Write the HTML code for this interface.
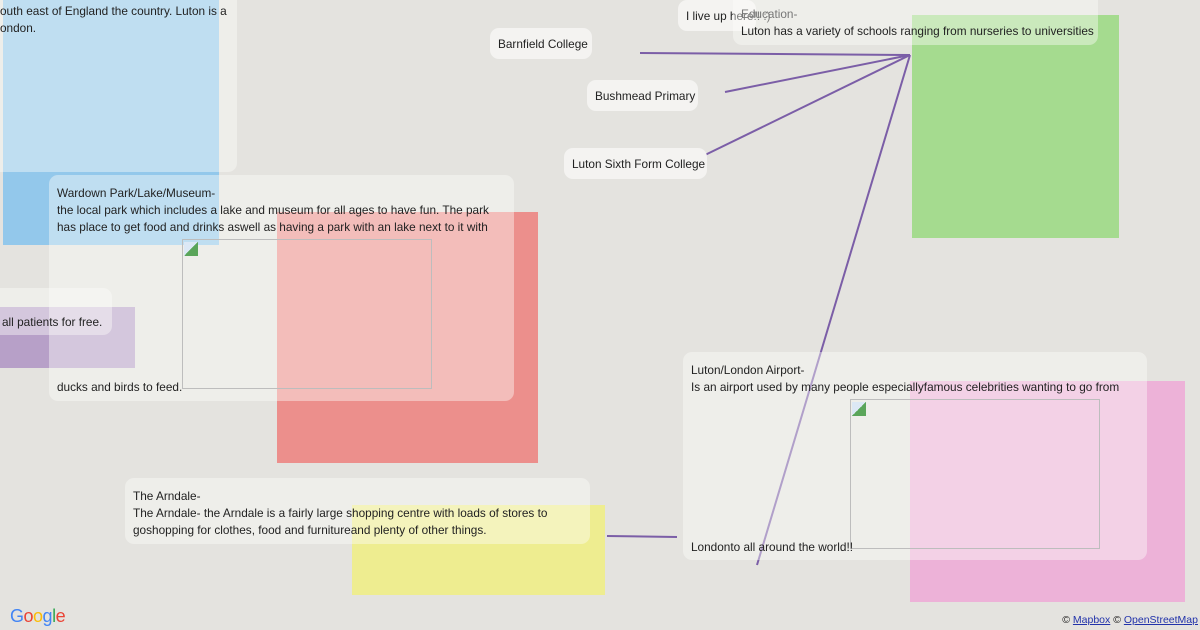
<!DOCTYPE html>
<html><head><meta charset="utf-8"><style>
body{margin:0;width:1200px;height:630px;overflow:hidden;background:#e4e3df;position:relative;font-family:"Liberation Sans",sans-serif;font-size:11.8px;color:#222}
.r{position:absolute}
.c{position:absolute;background:rgba(252,252,250,0.42);border-radius:9px;box-sizing:border-box}
.p{position:absolute;background:#f4f3f1;border-radius:9px;box-sizing:border-box;padding:1px 8px 0;line-height:30px;white-space:nowrap}
.t{position:absolute;white-space:nowrap;line-height:17px}
.img{position:absolute;border:1px solid #bdbdbd;box-sizing:border-box}
.img::before{content:"";position:absolute;left:1px;top:2px;width:14px;height:14px;background:linear-gradient(135deg,#dce8f5 50%,#5aa55a 50%)}
</style></head><body>
<div class="r" style="left:3px;top:-5px;width:216px;height:250px;background:#93c8eb"></div>
<div class="r" style="left:912px;top:15px;width:207px;height:223px;background:#a5db8f"></div>
<div class="r" style="left:277px;top:212px;width:261px;height:251px;background:#ec8f8c"></div>
<div class="r" style="left:-5px;top:307px;width:140px;height:61px;background:#b7a0c8"></div>
<div class="r" style="left:910px;top:381px;width:275px;height:221px;background:#edb2d8"></div>
<div class="r" style="left:352px;top:505px;width:253px;height:90px;background:#eeed90"></div>

<svg class="r" style="left:0;top:0" width="1200" height="630">
<g stroke="#7b5ea7" stroke-width="2" fill="none">
<line x1="640" y1="53" x2="910" y2="55"/>
<line x1="725" y1="92" x2="910" y2="55"/>
<line x1="705" y1="155" x2="910" y2="55"/>
<line x1="757" y1="565" x2="910" y2="55"/>
<line x1="607" y1="536" x2="677" y2="537"/>
<line x1="703" y1="0" x2="722" y2="16" stroke="#b7a8cf" stroke-width="1.5"/>
</g></svg>

<div class="c" style="left:-20px;top:-20px;width:257px;height:192px"></div>
<div class="t" style="left:0;top:3px">outh east of England the country. Luton is a<br>ondon.</div>

<div class="c" style="left:49px;top:175px;width:465px;height:226px"></div>
<div class="t" style="left:57px;top:185px">Wardown Park/Lake/Museum-<br>the local park which includes a lake and museum for all ages to have fun. The park<br>has place to get food and drinks aswell as having a park with an lake next to it with</div>
<div class="img" style="left:182px;top:239px;width:250px;height:150px"></div>
<div class="t" style="left:57px;top:379px">ducks and birds to feed.</div>

<div class="c" style="left:-20px;top:288px;width:132px;height:47px"></div>
<div class="t" style="left:2px;top:314px">all patients for free.</div>

<div class="p" style="left:490px;top:28px;width:102px">Barnfield College</div>
<div class="p" style="left:587px;top:80px;width:111px">Bushmead Primary</div>
<div class="p" style="left:564px;top:148px;width:143px">Luton Sixth Form College</div>
<div class="p" style="left:678px;top:0;width:78px">I live up here!! :)</div>

<div class="c" style="left:733px;top:-20px;width:365px;height:65px"></div>
<div class="t" style="left:741px;top:6px;color:#777">Education-</div>
<div class="t" style="left:741px;top:23px">Luton has a variety of schools ranging from nurseries to universities</div>

<div class="c" style="left:683px;top:352px;width:464px;height:208px"></div>
<div class="t" style="left:691px;top:362px">Luton/London Airport-<br>Is an airport used by many people especiallyfamous celebrities wanting to go from</div>
<div class="img" style="left:850px;top:399px;width:250px;height:150px"></div>
<div class="t" style="left:691px;top:539px">Londonto all around the world!!</div>

<div class="c" style="left:125px;top:478px;width:465px;height:66px"></div>
<div class="t" style="left:133px;top:488px">The Arndale-<br>The Arndale- the Arndale is a fairly large shopping centre with loads of stores to<br>goshopping for clothes, food and furnitureand plenty of other things.</div>

<div class="t" style="left:10px;top:605px;font-size:18px;line-height:22px;letter-spacing:-0.5px"><span style="color:#4285f4">G</span><span style="color:#ea4335">o</span><span style="color:#fbbc05">o</span><span style="color:#4285f4">g</span><span style="color:#34a853">l</span><span style="color:#ea4335">e</span></div>
<div class="t" style="right:2px;top:612px;font-size:10.5px">© <u style="color:#2233aa">Mapbox</u> © <u style="color:#2233aa">OpenStreetMap</u></div>
</body></html>
